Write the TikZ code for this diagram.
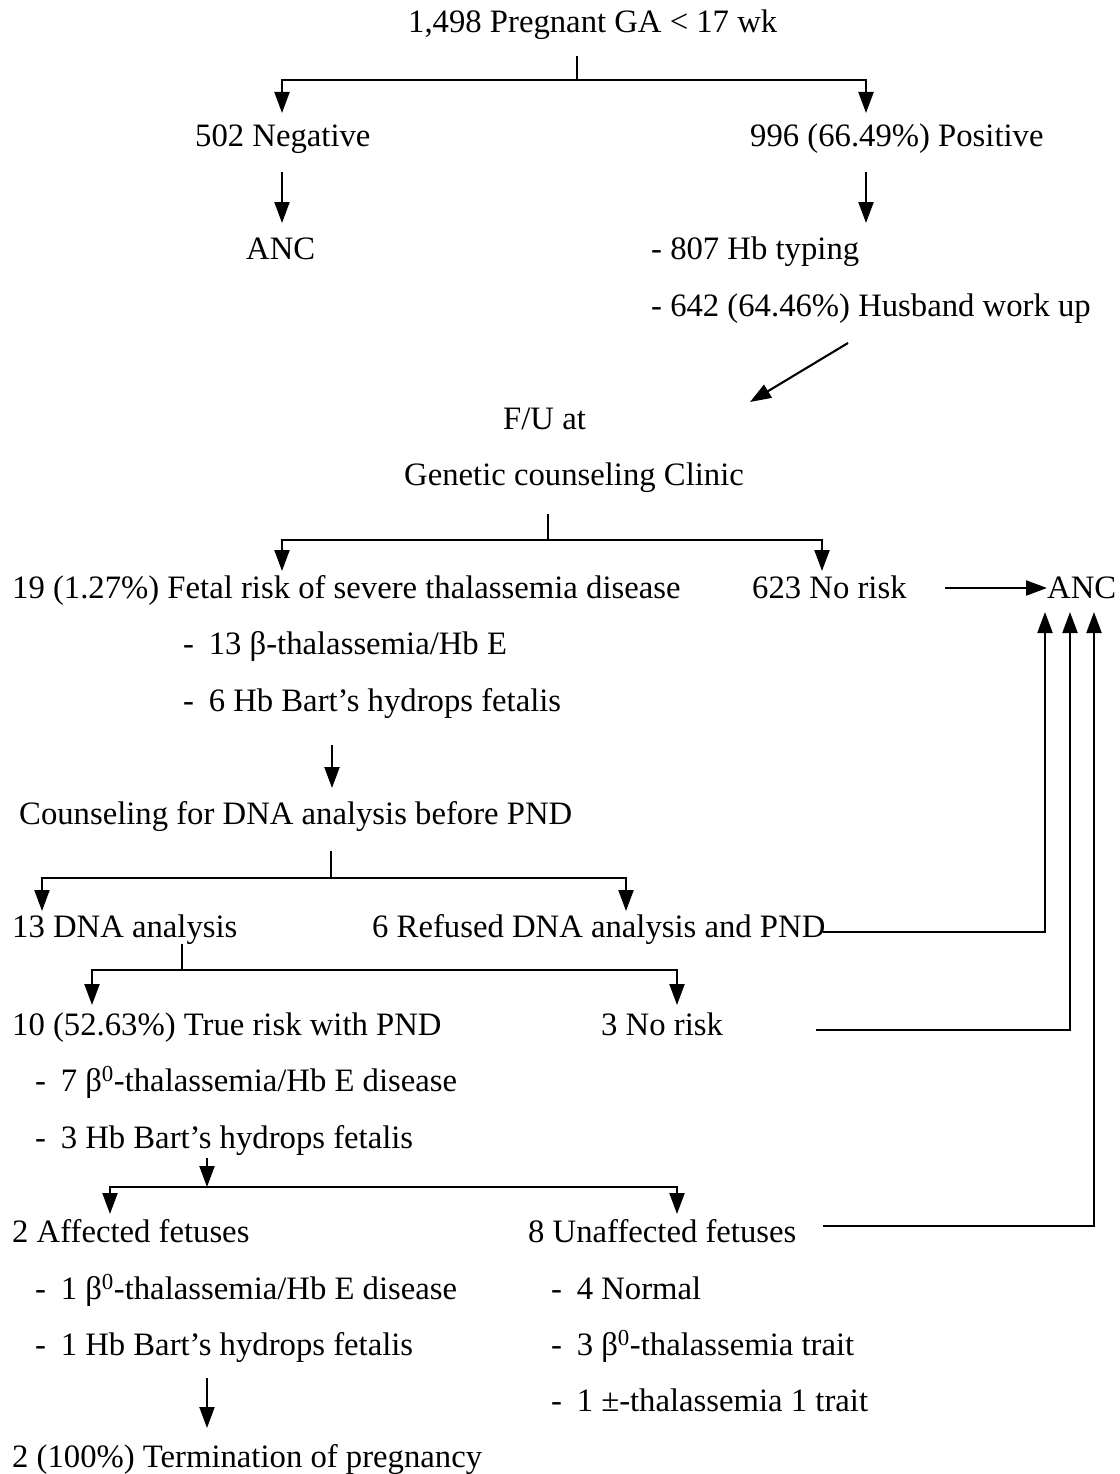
\documentclass[tikz,border=0pt]{standalone}
\usepackage{fontspec}
\setmainfont{Liberation Serif}
\usetikzlibrary{arrows.meta}
\newcommand{\fsz}{\fontsize{32.7}{39}\selectfont}
\newcommand{\dsh}{-\hspace{0.45em}}
\begin{document}
\begin{tikzpicture}[x=1pt,y=-1pt,
  txt/.style={anchor=base west, inner sep=0pt, font=\fsz},
  ln/.style={line width=2.1pt, line cap=rect},
  arr/.style={line width=2.1pt, -{Triangle[length=21pt,width=15pt]}}]
\useasboundingbox[fill=white] (0,0) rectangle (1119,1474);
% texts
\node[txt] (top) at (408,33) {1,498 Pregnant GA < 17 wk};
\node[txt] (neg) at (195,147) {502 Negative};
\node[txt] (pos) at (750,147) {996 (66.49\%) Positive};
\node[txt] (ancA) at (246,259) {ANC};
\node[txt] (hb) at (651,259) {- 807 Hb typing};
\node[txt] (hus) at (651,316) {- 642 (64.46\%) Husband work up};
\node[txt] (fu) at (503,429) {F/U at};
\node[txt] (gcc) at (404,485) {Genetic counseling Clinic};
\node[txt] (risk) at (12,598) {19 (1.27\%) Fetal risk of severe thalassemia disease};
\node[txt] (nrA) at (752,598) {623 No risk};
\node[txt] (ancB) at (1047,598) {ANC};
\node[txt] (b13) at (183,654) {\dsh 13 β-thalassemia/Hb E};
\node[txt] (b6) at (183,711) {\dsh 6 Hb Bart’s hydrops fetalis};
\node[txt] (couns) at (19,824) {Counseling for DNA analysis before PND};
\node[txt] (dna) at (12,937) {13 DNA analysis};
\node[txt] (ref) at (372,937) {6 Refused DNA analysis and PND};
\node[txt] (true) at (12,1035) {10 (52.63\%) True risk with PND};
\node[txt] (nrB) at (601,1035) {3 No risk};
\node[txt] (t7) at (35,1091) {\dsh 7 β\textsuperscript{0}-thalassemia/Hb E disease};
\node[txt] (t3) at (35,1148) {\dsh 3 Hb Bart’s hydrops fetalis};
\node[txt] (aff) at (12,1242) {2 Affected fetuses};
\node[txt] (unaff) at (528,1242) {8 Unaffected fetuses};
\node[txt] (a1) at (35,1299) {\dsh 1 β\textsuperscript{0}-thalassemia/Hb E disease};
\node[txt] (a2) at (35,1355) {\dsh 1 Hb Bart’s hydrops fetalis};
\node[txt] (u4) at (551,1299) {\dsh 4 Normal};
\node[txt] (u3) at (551,1355) {\dsh 3 β\textsuperscript{0}-thalassemia trait};
\node[txt] (u1) at (551,1411) {\dsh 1 ±-thalassemia 1 trait};
\node[txt] (term) at (12,1467) {2 (100\%) Termination of pregnancy};
% coordinates
\coordinate (s1) at (577,57);  \coordinate (j1) at (577,80);
\coordinate (l1) at (282,80);  \coordinate (r1) at (866,80);
\coordinate (l1e) at (282,113); \coordinate (r1e) at (866,113);
\coordinate (l2s) at (282,172); \coordinate (l2e) at (282,223);
\coordinate (r2s) at (866,172); \coordinate (r2e) at (866,223);
\coordinate (ds) at (848,343); \coordinate (de) at (750,402);
\coordinate (s3) at (548,515); \coordinate (j3) at (548,540);
\coordinate (l3) at (282,540); \coordinate (r3) at (822,540);
\coordinate (l3e) at (282,571); \coordinate (r3e) at (822,571);
\coordinate (nrs) at (945,588); \coordinate (nre) at (1047,588);
\coordinate (cs) at (332,745); \coordinate (ce) at (332,788);
\coordinate (s4) at (331,852); \coordinate (j4) at (331,878);
\coordinate (l4) at (42,878); \coordinate (r4) at (626,878);
\coordinate (l4e) at (42,911); \coordinate (r4e) at (626,911);
\coordinate (rfs) at (823,932); \coordinate (rfc) at (1045,932); \coordinate (rfe) at (1045,612);
\coordinate (s5) at (182,945); \coordinate (j5) at (182,970);
\coordinate (l5) at (92,970); \coordinate (r5) at (677,970);
\coordinate (l5e) at (92,1005); \coordinate (r5e) at (677,1005);
\coordinate (nbs) at (816,1030); \coordinate (nbc) at (1070,1030); \coordinate (nbe) at (1070,612);
\coordinate (s6) at (207,1158); \coordinate (j6) at (207,1187);
\coordinate (l6) at (110,1187); \coordinate (r6) at (677,1187);
\coordinate (l6e) at (110,1214); \coordinate (r6e) at (677,1214);
\coordinate (uns) at (823,1226); \coordinate (unc) at (1094,1226); \coordinate (une) at (1094,612);
\coordinate (ts) at (207,1378); \coordinate (te) at (207,1428);
% connectors
\draw[ln] (s1) -- (j1); \draw[ln] (l1) -- (r1);
\draw[arr] (l1) -- (l1e); \draw[arr] (r1) -- (r1e);
\draw[arr] (l2s) -- (l2e); \draw[arr] (r2s) -- (r2e);
\draw[arr] (ds) -- (de);
\draw[ln] (s3) -- (j3); \draw[ln] (l3) -- (r3);
\draw[arr] (l3) -- (l3e); \draw[arr] (r3) -- (r3e);
\draw[arr] (nrs) -- (nre);
\draw[arr] (cs) -- (ce);
\draw[ln] (s4) -- (j4); \draw[ln] (l4) -- (r4);
\draw[arr] (l4) -- (l4e); \draw[arr] (r4) -- (r4e);
\draw[arr] (rfs) -- (rfc) -- (rfe);
\draw[ln] (s5) -- (j5); \draw[ln] (l5) -- (r5);
\draw[arr] (l5) -- (l5e); \draw[arr] (r5) -- (r5e);
\draw[arr] (nbs) -- (nbc) -- (nbe);
\draw[arr] (s6) -- (j6); \draw[ln] (l6) -- (r6);
\draw[arr] (l6) -- (l6e); \draw[arr] (r6) -- (r6e);
\draw[arr] (uns) -- (unc) -- (une);
\draw[arr] (ts) -- (te);
\end{tikzpicture}
\end{document}
